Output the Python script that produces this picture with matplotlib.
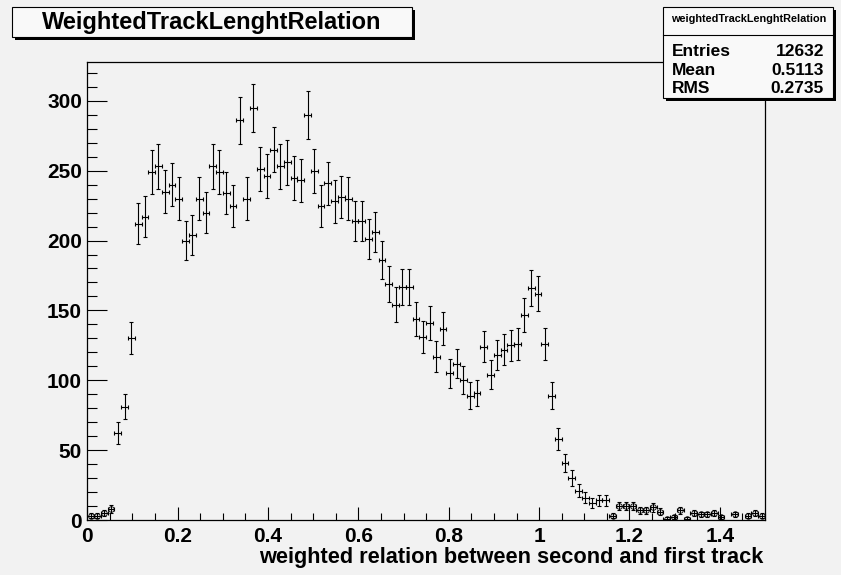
import numpy as np
import matplotlib
matplotlib.use("Agg")
import matplotlib.pyplot as plt
from matplotlib.patches import Rectangle
from matplotlib.ticker import MultipleLocator, FixedLocator

# histogram: 100 bins between 0 and 1.5
x_min, x_max, n_bins = 0.0, 1.5, 100
counts = [
    3, 3, 5, 8, 62, 81, 130, 212, 217, 249,
    253, 235, 240, 230, 200, 204, 230, 220, 253, 249,
    234, 225, 286, 230, 295, 251, 246, 265, 253, 256,
    245, 243, 290, 250, 225, 241, 228, 231, 230, 214,
    214, 201, 206, 186, 169, 154, 167, 167, 144, 131,
    141, 117, 137, 105, 112, 100, 89, 91, 124, 104,
    118, 122, 125, 126, 147, 166, 162, 126, 89, 58,
    41, 30, 21, 16, 12, 14, 14, 3, 10, 10,
    10, 7, 7, 9, 6, 1, 2, 7, 1, 5,
    4, 4, 5, 2, 0, 4, 0, 3, 5, 3,
]
x_ticks = [0, 0.2, 0.4, 0.6, 0.8, 1.0, 1.2, 1.4]
x_tick_labels = ["0", "0.2", "0.4", "0.6", "0.8", "1", "1.2", "1.4"]
y_ticks = [0, 50, 100, 150, 200, 250, 300]

title = "WeightedTrackLenghtRelation"
stats_name = "weightedTrackLenghtRelation"
stats_rows = [("Entries", "12632"), ("Mean", "0.5113"), ("RMS", "0.2735")]
x_label = "weighted relation between second and first track"

W, H = 841, 575
BG = "#f2f2f2"
BOX = "#f9f9f9"
FONT = "Liberation Sans"

plt.rcParams["font.family"] = [FONT, "DejaVu Sans"]
plt.rcParams["font.weight"] = "bold"


def fx(x):
    return x / W


def fy(y):
    return 1 - y / H


fig = plt.figure(figsize=(W / 100, H / 100), dpi=100, facecolor=BG)

# axes frame in pixels: left 87.3, right 765, top 61.7, bottom 520
ax = fig.add_axes([fx(87.3), fy(520), (765 - 87.3) / W, (520 - 61.7) / H])
ax.set_facecolor(BG)

counts = np.array(counts, dtype=float)
edges = np.linspace(x_min, x_max, n_bins + 1)
centers = 0.5 * (edges[:-1] + edges[1:])
half_w = 0.5 * (edges[1] - edges[0])
nz = counts > 0

ax.errorbar(centers[nz], counts[nz], xerr=half_w, yerr=np.sqrt(counts[nz]),
            fmt="none", ecolor="black", elinewidth=0.8,
            capsize=1.6, capthick=0.8)
small = nz & (counts <= 10)
ax.plot(centers[small], counts[small], "o", mfc="none", mec="black",
        ms=4, mew=0.6)

ax.set_xlim(x_min, x_max)
ax.set_ylim(0, 328)

ax.xaxis.set_major_locator(FixedLocator(x_ticks))
ax.set_xticklabels(x_tick_labels)
ax.xaxis.set_minor_locator(MultipleLocator(0.05))
ax.yaxis.set_major_locator(FixedLocator(y_ticks))
ax.yaxis.set_minor_locator(MultipleLocator(10))

ax.tick_params(axis="x", which="major", direction="in", length=9.4,
               width=0.8, pad=5, labelsize=15)
ax.tick_params(axis="x", which="minor", direction="in", length=4.7, width=0.8)
ax.tick_params(axis="y", which="major", direction="in", length=14.4,
               width=0.8, pad=3.8, labelsize=15)
ax.tick_params(axis="y", which="minor", direction="in", length=7.2, width=0.8)
for lab in ax.get_xticklabels() + ax.get_yticklabels():
    lab.set_fontweight("bold")
for sp in ax.spines.values():
    sp.set_linewidth(0.9)
    sp.set_color("black")

fig.text(fx(763), fy(563), x_label, ha="right", va="baseline",
         fontsize=15.7, fontweight="bold")


def framed_box(x0, y0, x1, y1, shadow=3):
    sh = Rectangle((fx(x0 + shadow), fy(y1 + shadow)),
                   (x1 - x0) / W, (y1 - y0) / H,
                   transform=fig.transFigure, facecolor="black",
                   edgecolor="none", zorder=5)
    box = Rectangle((fx(x0), fy(y1)), (x1 - x0) / W, (y1 - y0) / H,
                    transform=fig.transFigure, facecolor=BOX,
                    edgecolor="black", linewidth=0.8, zorder=6)
    fig.add_artist(sh)
    fig.add_artist(box)


# title box
framed_box(11.7, 7.3, 411.7, 37.3)
fig.text(fx(211.7), fy(28.5), title, ha="center", va="baseline",
         fontsize=17, fontweight="bold", zorder=7)

# stats box
framed_box(663.3, 7.3, 832.7, 98.3)
fig.add_artist(plt.Line2D([fx(663.3), fx(832.7)], [fy(35), fy(35)],
                          transform=fig.transFigure, color="black",
                          linewidth=0.8, zorder=7))
fig.text(fx(748.2), fy(22), stats_name, ha="center", va="baseline",
         fontsize=7.8, fontweight="bold", zorder=7)
for k, (name, val) in enumerate(stats_rows):
    base = 56.2 + 18.6 * k
    fig.text(fx(671.5), fy(base), name, ha="left", va="baseline",
             fontsize=12.5, fontweight="bold", zorder=7)
    fig.text(fx(824), fy(base), val, ha="right", va="baseline",
             fontsize=12.5, fontweight="bold", zorder=7)

fig.savefig("out.png", dpi=100, facecolor=BG)
